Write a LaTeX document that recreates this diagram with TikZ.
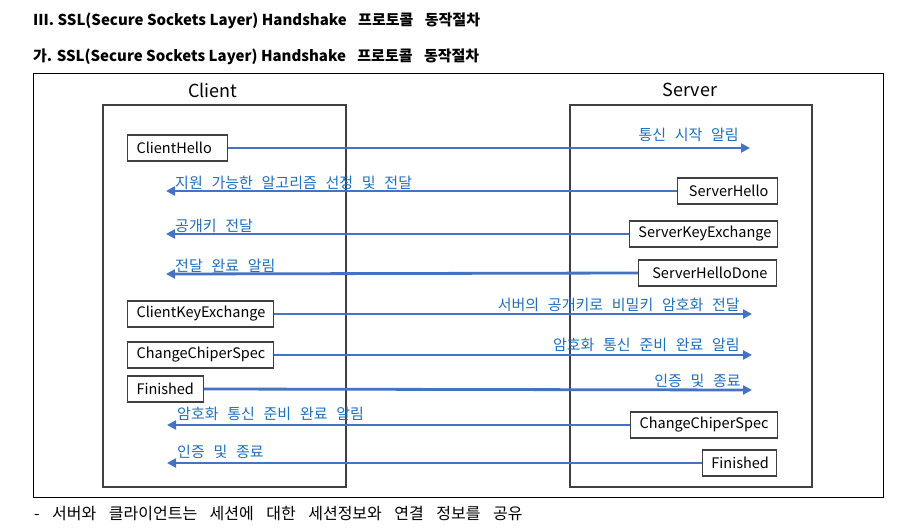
\documentclass[tikz,border=0pt]{standalone}
\usepackage{fontspec}
\setmainfont{Noto Sans CJK KR}
\newfontfamily\lblfont[WordSpace=2.6]{Noto Sans CJK KR}
\newcommand{\widesp}{\spaceskip=12.5pt\relax}
\usetikzlibrary{arrows.meta}
\definecolor{arrowblue}{HTML}{4472C4}
\definecolor{textblue}{HTML}{1F6FC0}
\definecolor{boxgray}{HTML}{404040}
\begin{document}
\begin{tikzpicture}[x=1pt,y=-1pt,
  title/.style={anchor=west,inner sep=0pt,font=\fontsize{15}{18}\selectfont\bfseries},
  party/.style={inner sep=0pt,font=\fontsize{18}{21}\selectfont},
  lifebox/.style={draw=boxgray,line width=1.1pt},
  frame/.style={draw=black,line width=0.9pt},
  msgbox/.style={draw=boxgray,fill=white,line width=1.1pt,inner xsep=9pt,inner ysep=0pt,
     minimum height=26pt,font=\fontsize{14.5}{17}\selectfont},
  cbox/.style={msgbox,anchor=west,align=left},
  sbox/.style={msgbox,anchor=east,align=right},
  msg/.style={draw=arrowblue,line width=2.8pt,-{Triangle[length=9pt,width=9pt]}},
  lbl/.style={inner sep=0pt,text=textblue,font=\lblfont\fontsize{15}{18}\selectfont},
  note/.style={anchor=west,inner sep=0pt,font=\fontsize{16}{19}\selectfont}]
\useasboundingbox (0,0) rectangle (900,529);
\fill[white] (0,0) rectangle (900,529);

\node[title] (t1) at (33,21) {III. SSL(Secure Sockets Layer) Handshake\hspace{8pt} 프로토콜\hspace{8pt} 동작절차};
\node[title] (t2) at (33,57) {가. SSL(Secure Sockets Layer) Handshake\hspace{8pt} 프로토콜\hspace{8pt} 동작절차};

\draw[frame] (33,73) rectangle (883,497);
\draw[lifebox] (103,105) rectangle (346,487);
\draw[lifebox] (570,105) rectangle (812,487);
\node[party] (client) at (213,90) {Client};
\node[party] (server) at (690,90) {Server};

% boxes
\node[cbox,text width=82pt] (ch) at (127,148) {ClientHello};
\node[sbox,text width=82pt] (sh) at (778,191) {ServerHello};
\node[sbox,text width=130pt] (ske) at (778,234) {ServerKeyExchange};
\node[sbox,text width=120pt] (shd) at (777,273) {ServerHelloDone};
\node[cbox,text width=128pt] (cke) at (127,314) {ClientKeyExchange};
\node[cbox,text width=128pt] (ccs) at (127,355) {ChangeChiperSpec};
\node[cbox,text width=58pt] (cf) at (127,389) {Finished};
\node[sbox,text width=129pt] (sccs) at (778,425) {ChangeChiperSpec};
\node[sbox,text width=56pt] (sf) at (777,463) {Finished};

% free ends
\coordinate (e1) at (750,148);
\coordinate (e2) at (166,191);
\coordinate (e3) at (166,234);
\coordinate (e4) at (166,274);
\coordinate (e5) at (752,314);
\coordinate (e6) at (752,355);
\coordinate (e7) at (752,390);
\coordinate (e8) at (167,425);
\coordinate (e9) at (167,463);

\draw[msg] (ch.east) -- (e1);
\draw[msg] (sh.west) -- (e2);
\draw[msg] (ske.west) -- (e3);
\draw[msg] (shd.west) -- (e4);
\draw[msg] (cke.east) -- (e5);
\draw[msg] (ccs.east) -- (e6);
\draw[msg] (cf.east) -- (e7);
\draw[msg] (sccs.west) -- (e8);
\draw[msg] (sf.west) -- (e9);

% labels
\node[lbl,anchor=east] (l1) at (739,135) {통신 시작 알림};
\node[lbl,anchor=west] (l2) at (175,183) {지원 가능한 알고리즘 선정 및 전달};
\node[lbl,anchor=west] (l3) at (175,226) {공개키 전달};
\node[lbl,anchor=west] (l4) at (175,266) {전달 완료 알림};
\node[lbl,anchor=east] (l5) at (740,305) {서버의 공개키로 비밀키 암호화 전달};
\node[lbl,anchor=east] (l6) at (740,345) {암호화 통신 준비 완료 알림};
\node[lbl,anchor=east] (l7) at (741,381) {인증 및 종료};
\node[lbl,anchor=west] (l8) at (177,414) {암호화 통신 준비 완료 알림};
\node[lbl,anchor=west] (l9) at (177,452) {인증 및 종료};

\node[note] (n) at (34,514) {\widesp - 서버와 클라이언트는 세션에 대한 세션정보와 연결 정보를 공유};
\end{tikzpicture}
\end{document}
